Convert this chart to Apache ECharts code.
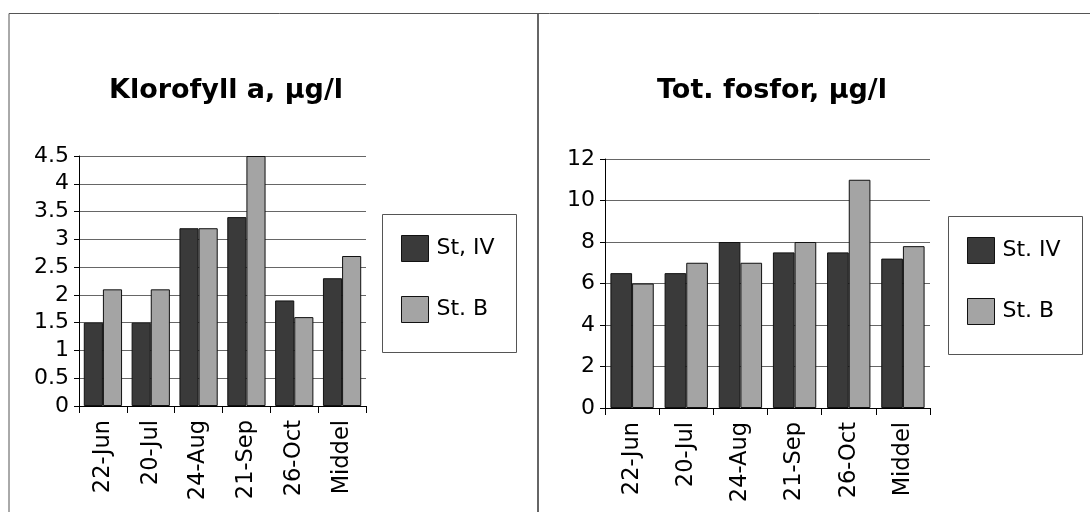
<!DOCTYPE html>
<html>
<head>
<meta charset="utf-8">
<script src="https://cdn.jsdelivr.net/npm/echarts@6/dist/echarts.min.js"></script>
<style>
html,body{margin:0;padding:0;background:#fff;}
#c{width:1091px;height:512px;}
</style>
</head>
<body>
<div id="c"></div>
<script>
var categories = ['22-Jun', '20-Jul', '24-Aug', '21-Sep', '26-Oct', 'Middel'];
var kloroTitle = 'Klorofyll a, µg/l';
var kloroNames = ['St, IV', 'St. B'];
var kloroIV = [1.5, 1.5, 3.2, 3.4, 1.9, 2.3];
var kloroB = [2.1, 2.1, 3.2, 4.5, 1.6, 2.7];
var fosTitle = 'Tot. fosfor, µg/l';
var fosNames = ['St. IV', 'St. B'];
var fosIV = [6.5, 6.5, 8, 7.5, 7.5, 7.2];
var fosB = [6, 7, 7, 8, 11, 7.8];

var FONT = 'DejaVu Sans';
var DARK = '#3a3a3a';
var LIGHT = '#a4a4a4';

function xAxisCfg(gi) {
  return {
    type: 'category', gridIndex: gi, data: categories,
    axisLine: {show: true, lineStyle: {color: '#000', width: 1}},
    axisTick: {show: true, length: 7, lineStyle: {color: '#000'}},
    axisLabel: {rotate: 90, fontFamily: FONT, fontSize: 22.5, color: '#000', margin: 14}
  };
}
function yAxisCfg(gi, max, interval) {
  return {
    type: 'value', gridIndex: gi, min: 0, max: max, interval: interval,
    axisLine: {show: true, lineStyle: {color: '#000', width: 1}},
    axisTick: {show: true, length: 5, lineStyle: {color: '#000'}},
    axisLabel: {fontFamily: FONT, fontSize: 22, color: '#000', margin: 10},
    splitLine: {show: true, lineStyle: {color: '#666', width: 1}}
  };
}
function barCfg(name, data, gi, color) {
  return {
    type: 'bar', name: name, data: data, xAxisIndex: gi, yAxisIndex: gi,
    barGap: '0%', barCategoryGap: '20%',
    itemStyle: {color: color, borderColor: '#111', borderWidth: 1},
    animation: false
  };
}

var chart = echarts.init(document.getElementById('c'), null, {renderer: 'canvas'});
chart.setOption({
  backgroundColor: '#fff',
  animation: false,
  title: [
    {text: kloroTitle, left: 221, top: 72, textAlign: 'center',
     textStyle: {fontFamily: FONT, fontWeight: 'bold', fontSize: 27, color: '#000'}},
    {text: fosTitle, left: 767, top: 72, textAlign: 'center',
     textStyle: {fontFamily: FONT, fontWeight: 'bold', fontSize: 27, color: '#000'}}
  ],
  legend: [
    {data: kloroNames, orient: 'vertical', left: 401, top: 235,
     itemWidth: 27, itemHeight: 26, itemGap: 34, padding: 0,
     icon: 'rect', itemStyle: {borderColor: '#111', borderWidth: 1},
     textStyle: {fontFamily: FONT, fontSize: 22, color: '#000', padding: [0, 0, 0, 3]}},
    {data: fosNames, orient: 'vertical', left: 967, top: 237,
     itemWidth: 27, itemHeight: 26, itemGap: 34, padding: 0,
     icon: 'rect', itemStyle: {borderColor: '#111', borderWidth: 1},
     textStyle: {fontFamily: FONT, fontSize: 22, color: '#000', padding: [0, 0, 0, 3]}}
  ],
  grid: [
    {left: 79, top: 156, width: 287, height: 250},
    {left: 605, top: 159, width: 325, height: 249}
  ],
  xAxis: [xAxisCfg(0), xAxisCfg(1)],
  yAxis: [yAxisCfg(0, 4.5, 0.5), yAxisCfg(1, 12, 2)],
  series: [
    barCfg(kloroNames[0], kloroIV, 0, DARK),
    barCfg(kloroNames[1], kloroB, 0, LIGHT),
    barCfg(fosNames[0], fosIV, 1, DARK),
    barCfg(fosNames[1], fosB, 1, LIGHT)
  ],
  graphic: [
    {type: 'polyline', shape: {points: [[9, 520], [9, 13.5], [1090, 13.5]]},
     style: {stroke: '#555', lineWidth: 1, fill: null}, silent: true},
    {type: 'line', shape: {x1: 538, y1: 14, x2: 538, y2: 520},
     style: {stroke: '#333', lineWidth: 1.5}, silent: true},
    {type: 'rect', shape: {x: 382.5, y: 214.5, width: 134, height: 138},
     style: {stroke: '#555', lineWidth: 1, fill: null}, silent: true, z: -1},
    {type: 'rect', shape: {x: 948.5, y: 216.5, width: 134, height: 138},
     style: {stroke: '#555', lineWidth: 1, fill: null}, silent: true, z: -1}
  ]
});
</script>
</body>
</html>
